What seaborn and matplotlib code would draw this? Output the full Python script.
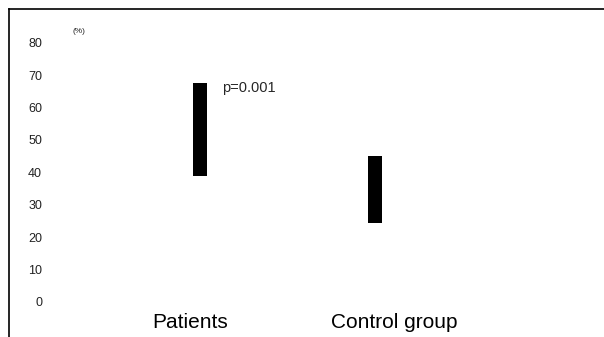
import matplotlib
matplotlib.use("Agg")
import matplotlib.pyplot as plt
import matplotlib.transforms as mtransforms
import pandas as pd
import seaborn as sns

# valeurs
groups = ["Patients", "Control group"]
lows = [39, 24.5]
highs = [67.5, 45]
yticks = [0, 10, 20, 30, 40, 50, 60, 70, 80]
p_label = "p=0.001"
unit_label = "(%)"

sns.set_style("white")
plt.rcParams["font.family"] = ["Liberation Sans", "DejaVu Sans"]

df = pd.DataFrame({"group": groups, "low": lows, "high": highs})
df["span"] = df["high"] - df["low"]

fig = plt.figure(figsize=(6.04, 3.37), dpi=100)
ax = fig.add_axes([9 / 604, 0, 1 - 9 / 604, 1 - 9 / 337])

# barres flottantes : hauteur = écart, base = valeur basse
sns.barplot(data=df, x="group", y="span", bottom=df["low"].values,
            color="black", saturation=1, width=0.083, errorbar=None,
            linewidth=0, ax=ax)

ax.set_xlim(-1.091, 2.309)
ax.set_ylim(-10.8, 90.4)
ax.set_xlabel("")
ax.set_ylabel("")

ax.set_yticks(yticks)
ax.set_yticklabels([str(v) for v in yticks])
ax.tick_params(axis="y", length=0, pad=-23.8, labelsize=9, colors="#222222")
ax.set_xticks(range(len(groups)))
ax.set_xticklabels(groups)
ax.tick_params(axis="x", length=0, pad=-17, labelsize=15, colors="black")

# décalage des étiquettes comme sur l'original
for lab, dx in zip(ax.get_xticklabels(), [-10, 19]):
    lab.set_transform(lab.get_transform() + mtransforms.ScaledTranslation(dx / 100, 0, fig.dpi_scale_trans))

for side in ["right", "bottom"]:
    ax.spines[side].set_visible(False)
for side in ["left", "top"]:
    ax.spines[side].set_color("black")
    ax.spines[side].set_linewidth(1.2)

ax.text(0.126, 66, p_label, fontsize=10.5, va="center")
ax.text(-0.69, 83.6, unit_label, fontsize=6, va="center", ha="center")

fig.savefig("out.png", dpi=100)
